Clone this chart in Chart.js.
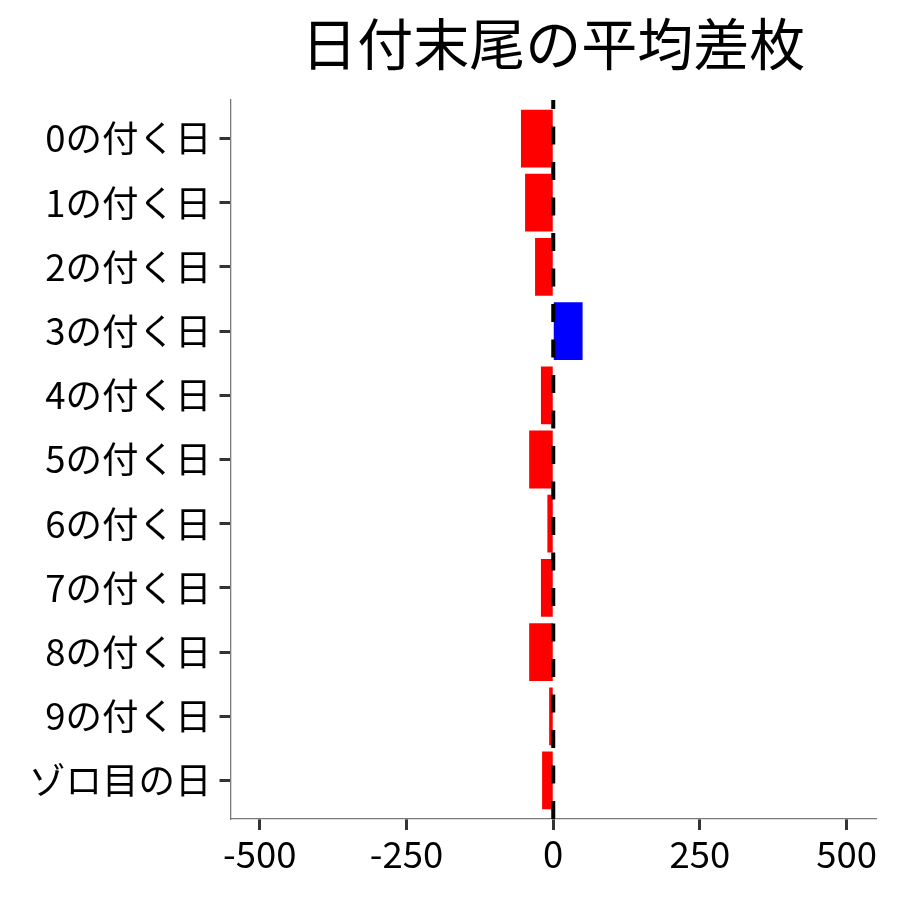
<!DOCTYPE html>
<html>
<head>
<meta charset="utf-8">
<script src="https://cdn.jsdelivr.net/npm/chart.js@4"></script>
<style>
html,body{margin:0;padding:0;background:#fff;}
#wrap{width:900px;height:900px;}
</style>
</head>
<body>
<div id="wrap"><canvas id="c" width="900" height="900"></canvas></div>
<script>
const categories = ["0の付く日","1の付く日","2の付く日","3の付く日","4の付く日","5の付く日","6の付く日","7の付く日","8の付く日","9の付く日","ゾロ目の日"];
const values = [-55, -48, -31, 50, -21, -41, -10, -21, -41, -7, -19];
const xTicks = [-500, -250, 0, 250, 500];
const title = "日付末尾の平均差枚";

const FONT = "'Noto Sans CJK JP', 'Noto Sans', sans-serif";

const zeroLine = {
  id: 'zeroLine',
  afterDatasetsDraw(chart) {
    const x = chart.scales.x.getPixelForValue(0);
    const a = chart.chartArea;
    const ctx = chart.ctx;
    ctx.save();
    ctx.strokeStyle = '#000';
    ctx.lineWidth = 4;
    ctx.setLineDash([18, 17.5]);
    ctx.beginPath();
    ctx.moveTo(x, a.bottom);
    ctx.lineTo(x, a.top);
    ctx.stroke();
    ctx.restore();
  }
};
const centerTitle = {
  id: 'centerTitle',
  afterLayout(chart) {
    const t = chart.titleBlock;
    if (t) {
      t.left = chart.chartArea.left;
      t.right = chart.chartArea.right;
      t.width = t.right - t.left;
    }
  }
};

new Chart(document.getElementById('c'), {
  type: 'bar',
  data: {
    datasets: [{
      data: values.map((v, i) => ({x: v, y: i})),
      backgroundColor: values.map(v => v >= 0 ? '#0000FF' : '#FF0000'),
      borderWidth: 0,
      barPercentage: 0.9,
      categoryPercentage: 1.0
    }]
  },
  options: {
    indexAxis: 'y',
    responsive: false,
    animation: false,
    layout: {padding: {left: 0, right: 24, top: 0, bottom: 0}},
    plugins: {
      legend: {display: false},
      tooltip: {enabled: false},
      title: {
        display: true,
        text: title,
        color: '#000',
        font: {family: FONT, size: 56, weight: 'normal', lineHeight: 1.2},
        padding: {top: 10, bottom: 22.8}
      }
    },
    scales: {
      x: {
        type: 'linear',
        min: -550,
        max: 550,
        offset: false,
        afterBuildTicks: s => { s.ticks = xTicks.map(v => ({value: v})); },
        afterFit: s => { s.height = 81; },
        grid: {display: true, offset: false, drawOnChartArea: false, tickLength: 11, tickWidth: 3, tickColor: '#333'},
        border: {display: true, color: '#7a7a7a', width: 1.3},
        ticks: {color: '#000', font: {family: FONT, size: 36.5}, padding: 2, maxRotation: 0}
      },
      y: {
        type: 'linear',
        reverse: true,
        offset: false,
        min: -0.6,
        max: categories.length - 1 + 0.6,
        afterBuildTicks: s => { s.ticks = categories.map((c, i) => ({value: i})); },
        afterFit: s => { s.width = 230.5; },
        grid: {display: true, offset: false, drawOnChartArea: false, tickLength: 11, tickWidth: 3, tickColor: '#333'},
        border: {display: true, color: '#7a7a7a', width: 1.3},
        ticks: {color: '#000', font: {family: FONT, size: 36.5}, padding: 8, callback: v => categories[v]}
      }
    }
  },
  plugins: [zeroLine, centerTitle]
});
</script>
</body>
</html>
